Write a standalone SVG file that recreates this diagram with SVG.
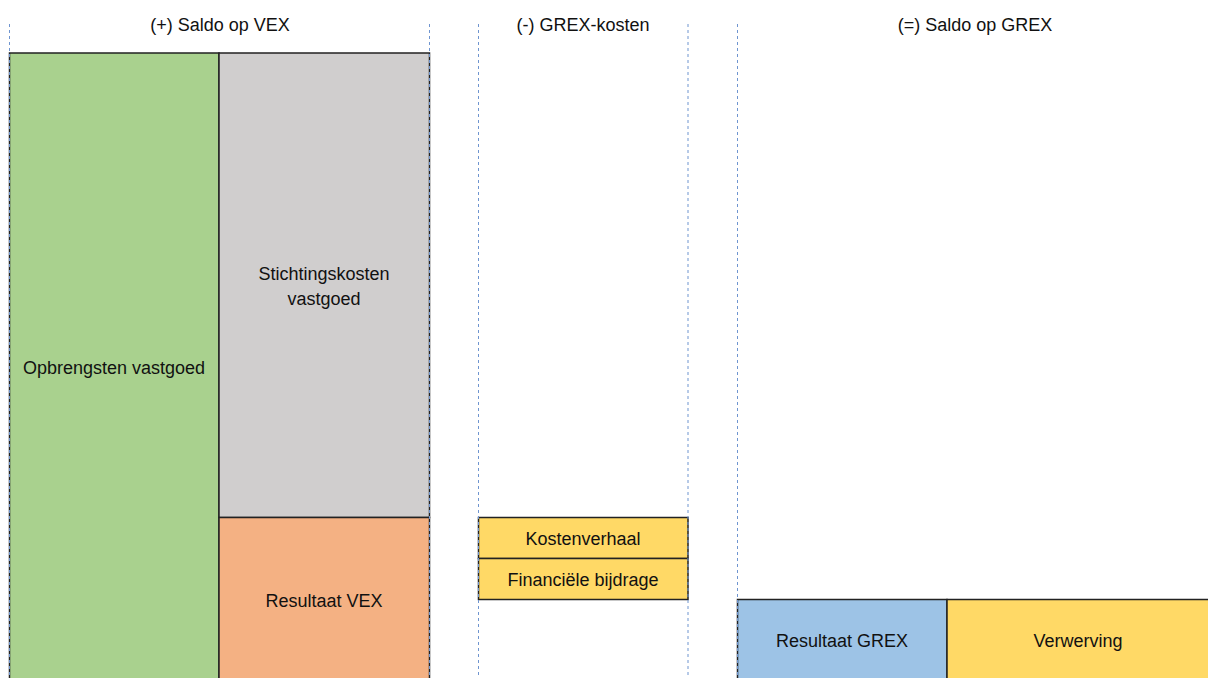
<svg xmlns="http://www.w3.org/2000/svg" width="1208" height="678" viewBox="0 0 1208 678">
<style>
.box{stroke:#222;stroke-width:1.5}
.lbl{font-family:"Liberation Sans","Open Sans",sans-serif;font-size:18px;fill:#111;text-anchor:middle}
.hd{font-family:"Liberation Sans","Open Sans",sans-serif;font-size:18px;fill:#111;text-anchor:middle}
.guide{stroke:#6f95d0;stroke-width:1;stroke-dasharray:3,3;fill:none}
</style>
<rect width="1208" height="678" fill="#fff"/>
<g id="headings">
<text class="hd" x="220" y="31">(+) Saldo op VEX</text>
<text class="hd" x="583" y="31">(-) GREX-kosten</text>
<text class="hd" x="975" y="31">(=) Saldo op GREX</text>
</g>
<g id="opbrengsten"><rect class="box" x="9.5" y="53" width="209.5" height="626" fill="#A9D18E"/><text class="lbl" x="114" y="374">Opbrengsten vastgoed</text></g>
<g id="stichtingskosten"><rect class="box" x="219" y="53" width="210.5" height="464.5" fill="#D0CECE"/><text class="lbl" x="324" y="280">Stichtingskosten</text><text class="lbl" x="324" y="305">vastgoed</text></g>
<g id="resultaat-vex"><rect class="box" x="219" y="517.5" width="210.5" height="161.5" fill="#F4B183"/><text class="lbl" x="324" y="607">Resultaat VEX</text></g>
<g id="kostenverhaal"><rect class="box" x="478.5" y="517.5" width="209.5" height="41" fill="#FFD966"/><text class="lbl" x="583" y="545">Kostenverhaal</text></g>
<g id="financiele-bijdrage"><rect class="box" x="478.5" y="558.5" width="209.5" height="41" fill="#FFD966"/><text class="lbl" x="583" y="586">Financiële bijdrage</text></g>
<g id="resultaat-grex"><rect class="box" x="737.5" y="599.5" width="209.5" height="80" fill="#9DC3E6"/><text class="lbl" x="842" y="647">Resultaat GREX</text></g>
<g id="verwerving"><rect class="box" x="947" y="599.5" width="262" height="80" fill="#FFD966"/><text class="lbl" x="1078" y="647">Verwerving</text></g>
<g id="connectors">
<line class="guide" x1="9.5" y1="24" x2="9.5" y2="678"/>
<line class="guide" x1="429.5" y1="24" x2="429.5" y2="678"/>
<line class="guide" x1="478.5" y1="24" x2="478.5" y2="678"/>
<line class="guide" x1="688" y1="24" x2="688" y2="678"/>
<line class="guide" x1="737.5" y1="24" x2="737.5" y2="678"/>
</g>
</svg>
